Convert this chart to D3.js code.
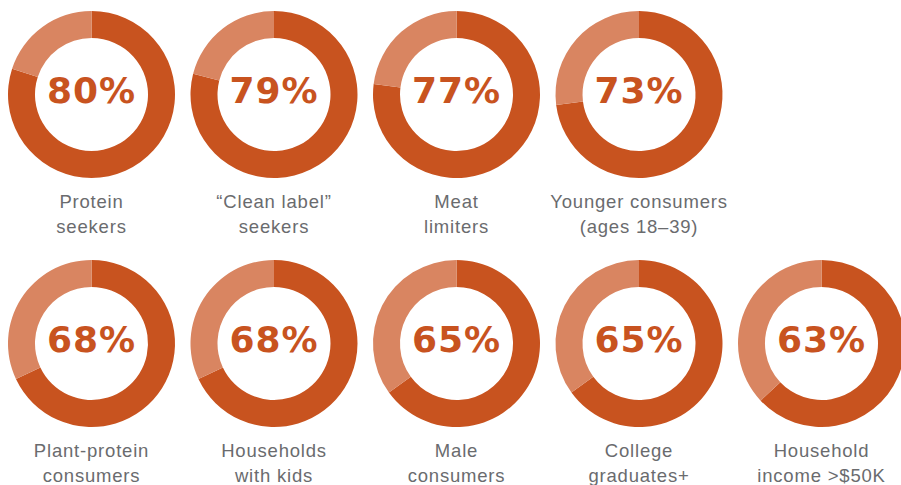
<!DOCTYPE html>
<html><head><meta charset="utf-8">
<script src="https://cdn.jsdelivr.net/npm/d3@7"></script>
<style>html,body{margin:0;padding:0;background:#fff;}svg{display:block;}</style>
</head><body>
<svg id="chart" width="901" height="485"></svg>
<script>
const categories = [
  ["Protein", "seekers"],
  ["\u201cClean label\u201d", "seekers"],
  ["Meat", "limiters"],
  ["Younger consumers", "(ages 18\u201339)"],
  ["Plant-protein", "consumers"],
  ["Households", "with kids"],
  ["Male", "consumers"],
  ["College", "graduates+"],
  ["Household", "income >$50K"]
];
const values = [80, 79, 77, 73, 68, 68, 65, 65, 63];
const rows = [0, 0, 0, 0, 1, 1, 1, 1, 1];
const cols = [0, 1, 2, 3, 0, 1, 2, 3, 4];

const svg = d3.select("#chart");
const x = d3.scaleLinear().domain([0, 4]).range([91.5, 821.5]);
const y = d3.scaleLinear().domain([0, 1]).range([94.5, 343.5]);
const angle = d3.scaleLinear().domain([0, 100]).range([0, 2 * Math.PI]);
const rOuter = 83.5, rInner = 56.5;
const arc = d3.arc().innerRadius(rInner).outerRadius(rOuter);
const dark = "#c8531f", light = "#d98561", labelColor = "#6a6b6e";

const g = svg.selectAll("g.donut").data(values).join("g")
  .attr("class", "donut")
  .attr("transform", (d, i) => `translate(${x(cols[i])},${y(rows[i])})`);

g.append("path").attr("fill", dark)
  .attr("d", d => arc({startAngle: 0, endAngle: angle(d)}));
g.append("path").attr("fill", light)
  .attr("d", d => arc({startAngle: angle(d), endAngle: angle(100)}));

g.append("text")
  .attr("text-anchor", "middle")
  .attr("y", 8.5)
  .attr("fill", dark)
  .style("font-family", "'DejaVu Sans', sans-serif")
  .style("font-weight", "bold")
  .style("font-size", "36px")
  .style("letter-spacing", "1px")
  .text(d => d + "%");

g.each(function(d, i) {
  const t = d3.select(this).append("text")
    .attr("text-anchor", "middle")
    .attr("fill", labelColor)
    .style("font-family", "'Liberation Sans', Arial, sans-serif")
    .style("font-size", "18.5px")
    .style("letter-spacing", "0.8px");
  categories[i].forEach((line, k) => {
    t.append("tspan").attr("x", 0).attr("y", 113.5 + k * 25).text(line);
  });
});
</script>
</body></html>
